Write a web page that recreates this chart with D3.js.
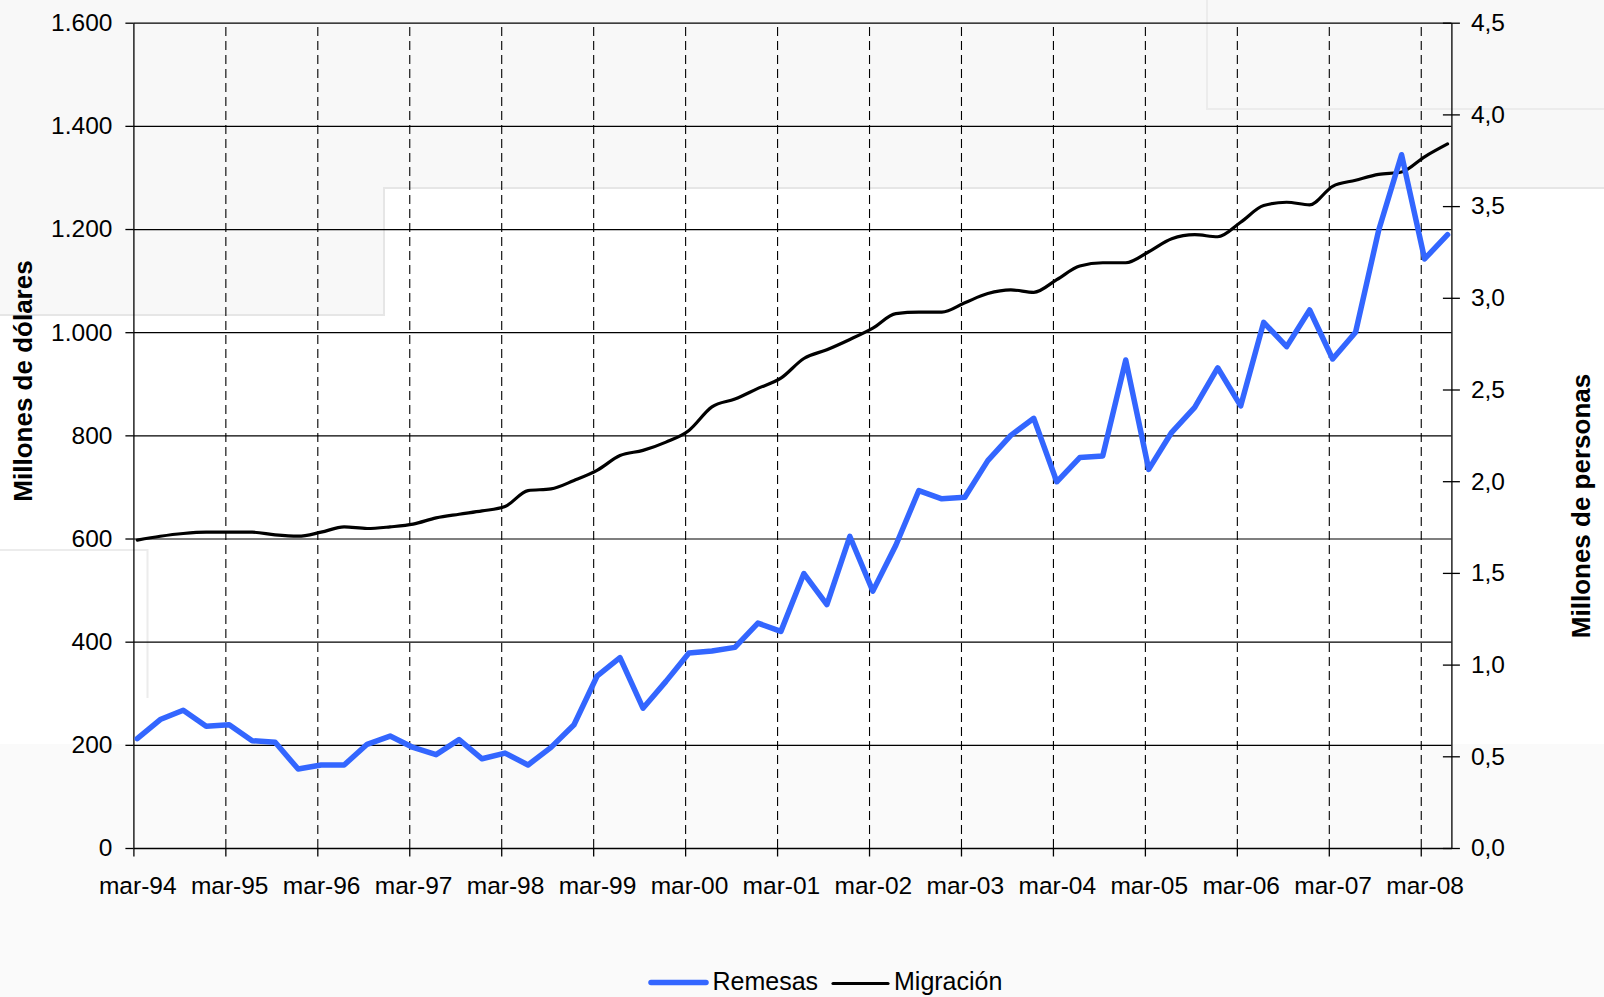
<!DOCTYPE html>
<html>
<head>
<meta charset="utf-8">
<script src="https://cdn.jsdelivr.net/npm/d3@7"></script>
<style>
  body { margin: 0; background: #fff; }
  svg { display: block; font-family: "Liberation Sans", Arial, sans-serif; }
</style>
</head>
<body>
<svg id="chart" width="1604" height="997"></svg>
<script>
// quarterly observations, mar-94 .. jun-08
const quarters = [
  "1994-03","1994-06","1994-09","1994-12",
  "1995-03","1995-06","1995-09","1995-12",
  "1996-03","1996-06","1996-09","1996-12",
  "1997-03","1997-06","1997-09","1997-12",
  "1998-03","1998-06","1998-09","1998-12",
  "1999-03","1999-06","1999-09","1999-12",
  "2000-03","2000-06","2000-09","2000-12",
  "2001-03","2001-06","2001-09","2001-12",
  "2002-03","2002-06","2002-09","2002-12",
  "2003-03","2003-06","2003-09","2003-12",
  "2004-03","2004-06","2004-09","2004-12",
  "2005-03","2005-06","2005-09","2005-12",
  "2006-03","2006-06","2006-09","2006-12",
  "2007-03","2007-06","2007-09","2007-12",
  "2008-03","2008-06"
];

// Remesas, millones de dólares (left axis)
const remesas = [
  212, 249, 267, 236,
  239, 208, 205, 153,
  161, 161, 201, 217,
  195, 181, 210, 173,
  184, 161, 195, 239,
  333, 369, 271, 323,
  378, 382, 389, 436,
  420, 532, 472, 604,
  498, 587, 693, 677,
  680, 751, 800, 833,
  710, 757, 760, 946,
  734, 806, 854, 931,
  857, 1019, 972, 1043,
  948, 1000, 1197, 1344,
  1142, 1189
];

// Migración, millones de personas (right axis)
const migracion = [
  1.679, 1.700, 1.715, 1.722,
  1.722, 1.722, 1.707, 1.700,
  1.722, 1.751, 1.742, 1.751,
  1.766, 1.800, 1.820, 1.838,
  1.862, 1.949, 1.958, 2.004,
  2.059, 2.140, 2.168, 2.213,
  2.277, 2.405, 2.448, 2.506,
  2.562, 2.669, 2.717, 2.773,
  2.835, 2.914, 2.922, 2.922,
  2.973, 3.023, 3.043, 3.030,
  3.099, 3.173, 3.191, 3.191,
  3.251, 3.322, 3.344, 3.333,
  3.412, 3.503, 3.521, 3.507,
  3.608, 3.641, 3.673, 3.686,
  3.769, 3.839
];

const xLabels = ["mar-94","mar-95","mar-96","mar-97","mar-98","mar-99","mar-00",
  "mar-01","mar-02","mar-03","mar-04","mar-05","mar-06","mar-07","mar-08"];
const leftTicks = [0, 200, 400, 600, 800, 1000, 1200, 1400, 1600];
const rightTicks = [0, 0.5, 1, 1.5, 2, 2.5, 3, 3.5, 4, 4.5];

const plot = { left: 133.4, right: 1451.4, top: 22.7, bottom: 848 };
const plotW = plot.right - plot.left;
const plotH = plot.bottom - plot.top;

// months counted from march 1994
const monthIdx = s => (+s.slice(0, 4) - 1994) * 12 + (+s.slice(5, 7) - 3);

const loc = d3.formatLocale({ decimal: ",", thousands: ".", grouping: [3], currency: ["", ""] });
const fmtLeft = loc.format(",.0f");
const fmtRight = loc.format(".1f");

const svg = d3.select("#chart");

// faint background shading from the scanned page
const bg = svg.append("g");
bg.append("path")
  .attr("d", "M0,0H1604V188H384V315H0Z")
  .attr("fill", "#f8f8f8");
bg.append("rect")
  .attr("x", 0).attr("y", 744).attr("width", 1604).attr("height", 253)
  .attr("fill", "#fafafa");
bg.append("path")
  .attr("d", "M0,315H384V188H1604")
  .attr("fill", "none").attr("stroke", "#e6e6e6").attr("stroke-width", 2);
bg.append("path")
  .attr("d", "M1207,0V109H1604")
  .attr("fill", "none").attr("stroke", "#ececec").attr("stroke-width", 2);
bg.append("path")
  .attr("d", "M0,550H147.5V698")
  .attr("fill", "none").attr("stroke", "#ececec").attr("stroke-width", 2);

const x = d3.scaleLinear().domain([0, 172]).range([plot.left, plot.right]);
const yL = d3.scaleLinear().domain([0, 1600]).range([plot.bottom, plot.top]);
const yR = d3.scaleLinear().domain([0, 4.5]).range([plot.bottom, plot.top]);

const yearMonths = xLabels.map((d, i) => i * 12);

// horizontal gridlines
svg.append("g")
  .attr("transform", `translate(${plot.left},0)`)
  .call(d3.axisLeft(yL).tickValues(leftTicks.slice(1)).tickSize(-plotW).tickFormat(""))
  .call(g => g.select(".domain").remove())
  .selectAll("line").attr("stroke", "#000").attr("stroke-width", 1.2);

// dashed yearly lines
svg.append("g")
  .attr("transform", `translate(0,${plot.bottom})`)
  .call(d3.axisBottom(x).tickValues(yearMonths.slice(1)).tickSize(-plotH).tickFormat(""))
  .call(g => g.select(".domain").remove())
  .selectAll("line")
  .attr("stroke", "#000").attr("stroke-width", 1.1).attr("stroke-dasharray", "9,5");

// x tick marks
svg.append("g")
  .attr("transform", `translate(0,${plot.bottom})`)
  .call(d3.axisBottom(x).tickValues(yearMonths).tickSize(8.5).tickSizeOuter(0).tickFormat(""))
  .call(g => g.selectAll("line,path").attr("stroke", "#000").attr("stroke-width", 1.3));

// x labels, centred on the march observation
svg.append("g")
  .attr("transform", `translate(0,${plot.bottom})`)
  .call(d3.axisBottom(x).tickValues(yearMonths.map(m => m + 0.5)).tickSize(0).tickPadding(28.5)
    .tickFormat((d, i) => xLabels[i]))
  .call(g => g.select(".domain").remove())
  .selectAll("text").attr("font-size", 24.5).attr("fill", "#000").attr("font-family", null);

// left axis
svg.append("g")
  .attr("transform", `translate(${plot.left},0)`)
  .call(d3.axisLeft(yL).tickValues(leftTicks).tickSize(8).tickSizeOuter(0).tickPadding(13).tickFormat(fmtLeft))
  .call(g => g.selectAll("line,path").attr("stroke", "#000").attr("stroke-width", 1.3))
  .selectAll("text").attr("font-size", 24.5).attr("fill", "#000").attr("font-family", null);

// right axis, ticks cross the line
svg.append("g")
  .attr("transform", `translate(${plot.right},0)`)
  .call(d3.axisRight(yR).tickValues(rightTicks).tickSize(8.5).tickSizeOuter(0).tickPadding(11).tickFormat(fmtRight))
  .call(g => g.selectAll(".tick line").attr("x1", -8.5))
  .call(g => g.selectAll("line,path").attr("stroke", "#000").attr("stroke-width", 1.3))
  .selectAll("text").attr("font-size", 24.5).attr("fill", "#000").attr("font-family", null);

// axis titles
svg.append("text")
  .attr("transform", "translate(23,381) rotate(-90)")
  .attr("text-anchor", "middle").attr("dy", "0.35em")
  .attr("font-size", 26).attr("font-weight", "bold")
  .text("Millones de dólares");

svg.append("text")
  .attr("transform", "translate(1581,506) rotate(-90)")
  .attr("text-anchor", "middle").attr("dy", "0.35em")
  .attr("font-size", 26).attr("font-weight", "bold")
  .text("Millones de personas");

// series
const xq = (d, i) => x(monthIdx(quarters[i]) + 0.5);

svg.append("path")
  .datum(migracion)
  .attr("fill", "none")
  .attr("stroke", "#000")
  .attr("stroke-width", 3.2)
  .attr("stroke-linejoin", "round")
  .attr("stroke-linecap", "round")
  .attr("d", d3.line().x(xq).y(d => yR(d)).curve(d3.curveMonotoneX));

svg.append("path")
  .datum(remesas)
  .attr("fill", "none")
  .attr("stroke", "#3366ff")
  .attr("stroke-width", 5.5)
  .attr("stroke-linejoin", "round")
  .attr("stroke-linecap", "round")
  .attr("d", d3.line().x(xq).y(d => yL(d)));

// legend
const legend = svg.append("g");
legend.append("line")
  .attr("x1", 651).attr("x2", 706).attr("y1", 982.5).attr("y2", 982.5)
  .attr("stroke", "#3366ff").attr("stroke-width", 5.5).attr("stroke-linecap", "round");
legend.append("text")
  .attr("x", 712.5).attr("y", 990).attr("font-size", 25).text("Remesas");
legend.append("line")
  .attr("x1", 833).attr("x2", 888).attr("y1", 983.5).attr("y2", 983.5)
  .attr("stroke", "#000").attr("stroke-width", 3.2).attr("stroke-linecap", "round");
legend.append("text")
  .attr("x", 894).attr("y", 990).attr("font-size", 25).text("Migración");
</script>
</body>
</html>
